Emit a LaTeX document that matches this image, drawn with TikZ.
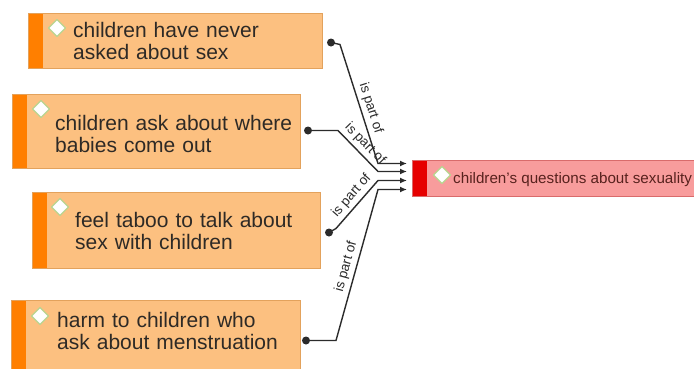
\documentclass[tikz,border=0pt]{standalone}
\usepackage{fontspec}
\setmainfont{Liberation Sans}
\usetikzlibrary{arrows.meta}
\definecolor{codefill}{HTML}{FCC080}
\definecolor{codeline}{HTML}{E3A25C}
\definecolor{codebar}{HTML}{FF7F00}
\definecolor{goalfill}{HTML}{F89C9C}
\definecolor{goalline}{HTML}{D96B6B}
\definecolor{goalbar}{HTML}{E60000}
\definecolor{markline}{HTML}{B9D48F}
\definecolor{inktext}{HTML}{2E2A26}
\definecolor{linkink}{HTML}{2B2B2B}

\begin{document}
\begin{tikzpicture}[x=1pt,y=-1pt,
  codebox/.style={draw=codeline,fill=codefill,line width=1pt,anchor=north west,inner sep=0pt,
    path picture={\fill[codebar] (path picture bounding box.north west) rectangle ([xshift=14pt]path picture bounding box.south west);}},
  goalbox/.style={draw=goalline,fill=goalfill,line width=1pt,anchor=north west,inner sep=0pt,
    path picture={\fill[goalbar] (path picture bounding box.north west) rectangle ([xshift=14pt]path picture bounding box.south west);}},
  codetext/.style={anchor=base west,inner sep=0pt,text width=250pt,align=left,text=inktext,
    font=\fontsize{21}{22.5}\selectfont},
  goaltext/.style={anchor=base west,inner sep=0pt,text=inktext!80!red,font=\fontsize{15.2}{17}\selectfont},
  codemark/.style={draw=markline,fill=white,line width=1.2pt,line join=round},
  link/.style={draw=linkink,line width=1.4pt,-{Latex[length=7pt,width=6pt]}},
  rel/.style={sloped,above=2pt,inner sep=1pt,text=linkink,font=\fontsize{13.5}{13.5}\selectfont}]
\fill[white] (0,0) rectangle (694,368);
\useasboundingbox (0,0) rectangle (694,368);
\clip (0,0) rectangle (694,368);
% code boxes
\foreach \bname/\bx/\by/\bw/\bh in {b1/28/13/294/55,b2/12/94/288/74,b3/32/192/288/76,b4/11/300/289/75}{
  \node[codebox,minimum width=\bw,minimum height=\bh] (\bname) at (\bx,\by) {};
}
\node[goalbox,minimum width=300,minimum height=36] (tgt) at (412,160) {};
% icons
\foreach \mx/\my in {57/28,41/109,60/207,40/316,442/175}{
  \draw[codemark,shift={(\mx,\my)}] (-8.5,0) -- (0,-8.5) -- (8.5,0) -- (0,8.5) -- cycle;
}
% texts
\foreach \tname/\tx/\ty/\ttext in {t1/73/37/{children have never\\asked about sex},
    t2/55/130/{children ask about where\\babies come out},
    t3/75/227/{feel taboo to talk about\\sex with children},
    t4/57/327/{harm to children who\\ask about menstruation}}{
  \node[codetext] (\tname) at (\tx,\ty) {\ttext};
}
\node[goaltext] (tgt-txt) at (453,183) {children's questions about sexuality};
% links
\coordinate (d1) at ([shift={(8,1.5)}]b1.east);
\coordinate (d2) at ([shift={(7,-1)}]b2.east);
\coordinate (d3) at ([shift={(8,2)}]b3.east);
\coordinate (d4) at ([shift={(5,2.5)}]b4.east);
\coordinate (e1) at ([shift={(-5,-15)}]tgt.west);
\coordinate (e2) at ([shift={(-5,-7)}]tgt.west);
\coordinate (e3) at ([shift={(-5,2)}]tgt.west);
\coordinate (e4) at ([shift={(-5,11)}]tgt.west);
\draw[link] (d1) -- ++(9,2) -- node[rel,pos=0.56] {is part of} ([xshift=-29]e1) -- (e1);
\draw[link] (d2) -- ++(30,0) -- node[rel,pos=0.5] {is part of} ([xshift=-29]e2) -- (e2);
\draw[link] (d3) -- ++(7,-4) -- node[rel,pos=0.55] {is part of} ([xshift=-29]e3) -- (e3);
\draw[link] (d4) -- ++(30,0) -- node[rel,pos=0.47] {is part of} ([xshift=-29]e4) -- (e4);
\foreach \dname in {d1,d2,d3,d4}{
  \fill[linkink] (\dname) circle (4);
}
\end{tikzpicture}
\end{document}
